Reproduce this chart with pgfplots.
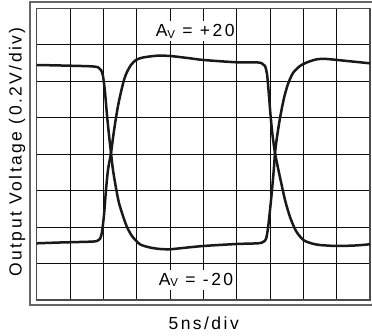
\documentclass[border=0pt]{standalone}
\usepackage{fontspec}
\setmainfont{Liberation Sans}
\newfontfamily\lsfont[LetterSpace=14]{Liberation Sans}
\usepackage{pgfplots}
\pgfplotsset{compat=1.18}
\begin{document}
\begin{tikzpicture}[x=1pt,y=1pt]
\useasboundingbox (-36.7,-35) rectangle (335.3,300);
\begin{axis}[
  at={(0,0)}, anchor=south west,
  scale only axis, width=333.3pt, height=291.7pt,
  xmin=0, xmax=10, ymin=0, ymax=8,
  xtick={0,1,...,10}, ytick={0,1,...,8},
  xticklabels={}, yticklabels={},
  major tick length=0pt,
  grid=major,
  major grid style={black!95, line width=1pt},
  axis line style={black!70, line width=1.2pt},
  clip=false,
]
% Av = +20 trace (starts high)
\addplot[black!90, line width=2.5pt, smooth, tension=0.45] coordinates {
(0,6.445) (0.699,6.432) (1.599,6.41) (1.839,6.383) (1.929,6.308) (1.989,6.144)
(2.049,5.705) (2.109,5.074) (2.169,4.526) (2.229,4.032) (2.289,3.566) (2.379,3.072)
(2.469,2.660) (2.589,2.304) (2.709,2.002) (2.859,1.755) (3.099,1.528) (3.399,1.44)
(3.699,1.399) (3.999,1.391) (4.299,1.418) (4.998,1.481) (6.0,1.536) (6.649,1.555)
(6.79,1.591) (6.88,1.673) (6.94,1.975) (7.0,2.468) (7.06,3.017) (7.12,3.648)
(7.15,4.032) (7.21,4.471) (7.30,4.992) (7.42,5.540) (7.54,5.924) (7.69,6.226)
(7.90,6.418) (8.14,6.528) (8.41,6.602) (8.71,6.610) (9.31,6.555) (10.0,6.492)
};
% Av = -20 trace (starts low)
\addplot[black!90, line width=2.5pt, smooth, tension=0.45] coordinates {
(0,1.555) (0.699,1.577) (1.599,1.599) (1.809,1.618) (1.899,1.673) (1.959,1.865)
(2.019,2.331) (2.079,3.017) (2.139,3.566) (2.229,4.032) (2.289,4.443) (2.349,4.827)
(2.439,5.321) (2.529,5.705) (2.619,6.034) (2.709,6.253) (2.829,6.445) (2.979,6.583)
(3.189,6.651) (3.609,6.700) (3.999,6.692) (4.599,6.629) (4.998,6.583) (6.0,6.519)
(6.6,6.519) (6.76,6.487) (6.85,6.418) (6.91,6.199) (6.955,5.760) (7.015,5.074)
(7.075,4.526) (7.15,4.032) (7.24,3.621) (7.33,3.236) (7.45,2.743) (7.60,2.276)
(7.78,1.893) (8.0,1.646) (8.26,1.550) (8.50,1.508) (9.0,1.481) (9.55,1.495)
(10.0,1.528)
};
\end{axis}
% outer frame
\draw[black!60, line width=2pt] (340,-5) -- (-6.7,-5) -- (-6.7,298) -- (340,298);
% labels
\node[fill=white, inner xsep=1.5pt, inner ysep=3pt, anchor=base]
  at (158.5,263.3) {\fontsize{17.5}{20}\lsfont A\raisebox{-1.5pt}{\fontsize{11.5}{12}\selectfont V} = +20};
\node[fill=white, inner xsep=1.5pt, inner ysep=3pt, anchor=base]
  at (159.3,15) {\fontsize{17.5}{20}\lsfont A\raisebox{-1.5pt}{\fontsize{11.5}{12}\selectfont V} = -20};
\node[anchor=base, inner sep=0pt] at (167,-29) {\fontsize{17.5}{20}\lsfont 5ns/div};
\node[rotate=90, anchor=base, inner sep=0pt] at (-15,148) {\fontsize{17.5}{20}\lsfont Output Voltage (0.2V/div)};
\end{tikzpicture}
\end{document}
